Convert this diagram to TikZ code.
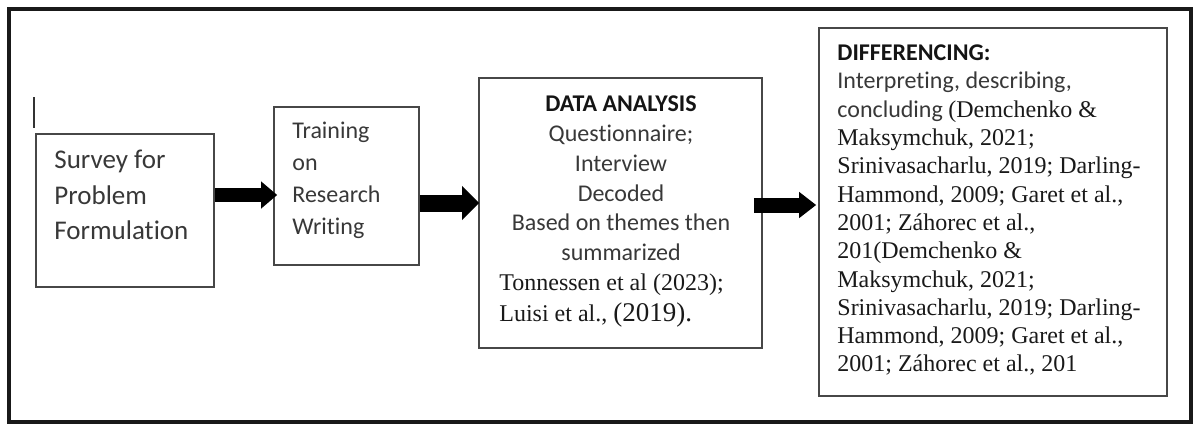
\documentclass[tikz,border=0pt]{standalone}
\usepackage{fontspec}
\setmainfont{Liberation Serif}
\newfontfamily\calibri[Ligatures=NoCommon]{Carlito}
\usetikzlibrary{arrows.meta}

\tikzset{
  box/.style={draw=black!72, line width=0.8pt, rectangle, inner sep=0pt},
  caltext/.style={inner sep=0pt, text=black!78, font=\calibri},
  timestext/.style={inner sep=0pt, text=black!90},
  fatarrow/.style={line width=7pt, -{Triangle[length=8pt,width=13pt]}}
}

\begin{document}
\begin{tikzpicture}[x=0.5pt,y=0.5pt,yscale=-1,xscale=1]
\useasboundingbox (0,0) rectangle (1194,425);

%Shape: Rectangle (frame)
\draw [line width=1.7pt, draw=black!90] (9,9) rectangle (1191,422);
%Straight Lines (cursor mark)
\draw [line width=0.6pt, draw=black!80] (34,97) -- (34,128);

%Shape: Rectangle
\node [box, minimum width=89pt, minimum height=76.5pt] (survey) at (125,210.5) {};
%Shape: Rectangle
\node [box, minimum width=72.5pt, minimum height=79pt] (training) at (346.5,186) {};
%Shape: Rectangle
\node [box, minimum width=141.5pt, minimum height=135pt] (data) at (620.5,213) {};
%Shape: Rectangle
\node [box, minimum width=174pt, minimum height=184pt] (diff) at (993,212) {};

% Text Node
\node [caltext, anchor=north west, align=left, font=\calibri\fontsize{13.5}{17.75}\selectfont] (surveytxt) at (54,150) {Survey for\\Problem\\Formulation};
% Text Node
\node [caltext, anchor=north west, align=left, font=\calibri\fontsize{12}{15.9}\selectfont] (trainingtxt) at (292,122) {Training\\on\\Research\\Writing};
% Text Node
\node [caltext, anchor=north, align=center, font=\calibri\fontsize{12}{14.9}\selectfont] (datatxt) at (621,95.5) {{\color{black!92}\bfseries DATA ANALYSIS}\\Questionnaire;\\Interview\\Decoded\\Based on themes then\\summarized};
% Text Node
\node [timestext, anchor=north west, align=left, font=\fontsize{12}{15.5}\selectfont] (datarefs) at (499,273) {Tonnessen et al (2023);\\Luisi et al., {\fontsize{13.5}{15.5}\selectfont(2019).}};
% Text Node
\node [timestext, anchor=north west, align=left, font=\fontsize{12}{14.15}\selectfont] (difftxt) at (837,44.5) {{\calibri\bfseries\color{black!92}DIFFERENCING:}\\{\calibri\color{black!78}Interpreting, describing,}\\{\calibri\color{black!78}concluding }(Demchenko \&\\Maksymchuk, 2021;\\Srinivasacharlu, 2019; Darling-\\Hammond, 2009; Garet et al.,\\2001; Záhorec et al.,\\201(Demchenko \&\\Maksymchuk, 2021;\\Srinivasacharlu, 2019; Darling-\\Hammond, 2009; Garet et al.,\\2001; Záhorec et al., 201};

%Right Arrow
\draw [fatarrow, shorten >=-2pt] (survey.east |- 0,195) -- (training.west |- 0,195);
%Right Arrow
\draw [fatarrow, line width=8.5pt, -{Triangle[length=8.5pt,width=16.5pt]}, shorten >=-0.5pt] (training.east |- 0,203) -- (data.west |- 0,203);
%Right Arrow
\draw [fatarrow, line width=7.5pt, -{Triangle[length=8.5pt,width=12.5pt]}, shorten <=-4.5pt, shorten >=1pt] (data.east |- 0,205) -- (diff.west |- 0,205);

\end{tikzpicture}
\end{document}
